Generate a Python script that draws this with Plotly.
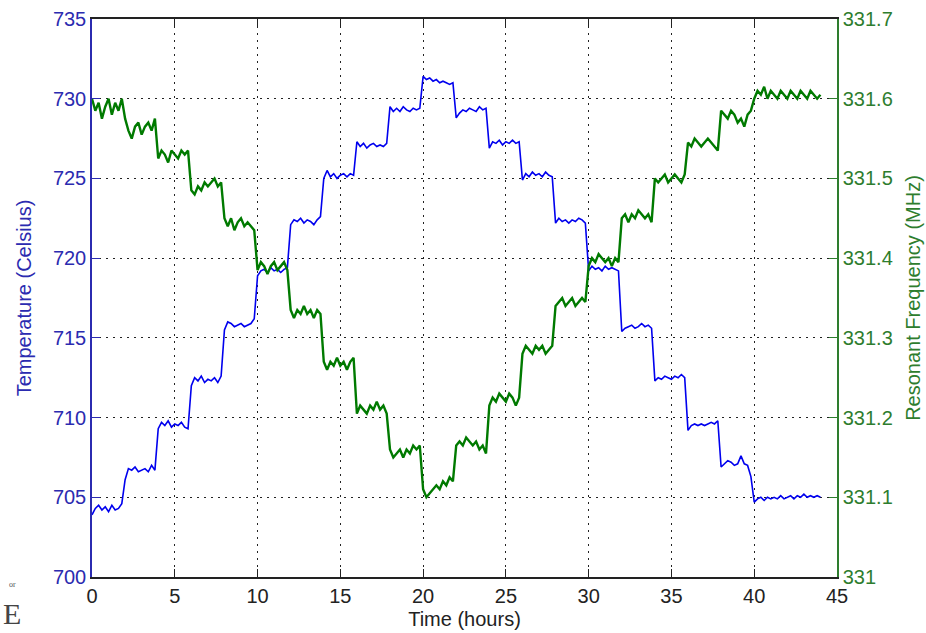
import numpy as np
import plotly.graph_objects as go

# Logger sample times (hours), one reading every 0.2 h
sample_hours = np.linspace(0, 44, 221)

# Furnace temperature (Celsius), ten readings per 2-hour set-point
temperature_c = [
    703.9, 704.3, 704.5, 704.2, 704.4, 704.1, 704.5, 704.2, 704.3, 704.6,   # 0-2 h
    706.1, 706.8, 706.7, 706.9, 706.6, 706.7, 706.8, 706.6, 707.0, 706.7,   # 2-4 h
    709.3, 709.7, 709.5, 709.8, 709.4, 709.6, 709.5, 709.7, 709.4, 709.3,   # 4-6 h
    712.0, 712.5, 712.3, 712.6, 712.2, 712.4, 712.3, 712.5, 712.2, 712.6,   # 6-8 h
    715.5, 716.0, 715.9, 715.7, 715.8, 715.9, 715.7, 715.8, 715.9, 716.2,   # 8-10 h
    718.9, 719.2, 719.3, 719.1, 719.4, 719.2, 719.3, 719.1, 719.3, 719.4,   # 10-12 h
    722.1, 722.4, 722.3, 722.5, 722.2, 722.4, 722.3, 722.1, 722.4, 722.6,   # 12-14 h
    725.0, 725.5, 725.1, 725.3, 725.0, 725.2, 725.3, 725.1, 725.3, 725.2,   # 14-16 h
    727.3, 727.0, 727.2, 726.9, 727.1, 727.2, 727.0, 727.1, 727.0, 727.2,   # 16-18 h
    729.5, 729.2, 729.4, 729.2, 729.5, 729.3, 729.2, 729.4, 729.3, 729.4,   # 18-20 h
    731.4, 731.2, 731.3, 731.1, 731.2, 731.0, 731.1, 731.0, 730.9, 731.0,   # 20-22 h
    728.8, 729.1, 729.3, 729.2, 729.4, 729.3, 729.2, 729.5, 729.3, 729.4,   # 22-24 h
    726.9, 727.3, 727.2, 727.4, 727.1, 727.3, 727.2, 727.4, 727.2, 727.3,   # 24-26 h
    724.9, 725.3, 725.1, 725.4, 725.2, 725.3, 725.1, 725.4, 725.2, 725.1,   # 26-28 h
    722.2, 722.5, 722.3, 722.4, 722.2, 722.4, 722.3, 722.5, 722.4, 722.2,   # 28-30 h
    719.2, 719.5, 719.3, 719.4, 719.2, 719.5, 719.3, 719.4, 719.3, 719.2,   # 30-32 h
    715.4, 715.6, 715.7, 715.8, 715.6, 715.7, 715.9, 715.7, 715.8, 715.6,   # 32-34 h
    712.3, 712.5, 712.4, 712.6, 712.5, 712.4, 712.6, 712.5, 712.7, 712.5,   # 34-36 h
    709.2, 709.5, 709.6, 709.5, 709.6, 709.5, 709.6, 709.7, 709.6, 709.8,   # 36-38 h
    706.9, 707.1, 707.3, 707.2, 707.0, 707.1, 707.6, 707.1, 707.0, 706.3,   # 38-40 h
    704.7, 704.9, 705.0, 704.8, 705.0, 704.9, 705.0, 704.9, 705.1, 704.9,   # 40-44 h
    705.0, 705.1, 704.9, 705.1, 705.0, 705.2, 705.0, 705.1, 705.0, 705.1, 705.0,
]

# Resonant frequency of the sensor (MHz), same sample times
frequency_mhz = [
    331.600, 331.585, 331.595, 331.575, 331.590, 331.600, 331.580, 331.595, 331.585, 331.600,  # 0-2 h
    331.575, 331.560, 331.550, 331.565, 331.570, 331.555, 331.565, 331.570, 331.560, 331.575,  # 2-4 h
    331.525, 331.535, 331.530, 331.520, 331.535, 331.530, 331.525, 331.535, 331.530, 331.535,  # 4-6 h
    331.485, 331.480, 331.490, 331.485, 331.495, 331.490, 331.495, 331.500, 331.490, 331.495,  # 6-8 h
    331.450, 331.440, 331.450, 331.435, 331.445, 331.450, 331.440, 331.445, 331.440, 331.435,  # 8-10 h
    331.385, 331.395, 331.390, 331.380, 331.390, 331.395, 331.385, 331.390, 331.395, 331.385,  # 10-12 h
    331.335, 331.325, 331.335, 331.330, 331.340, 331.330, 331.335, 331.325, 331.335, 331.330,  # 12-14 h
    331.270, 331.260, 331.270, 331.265, 331.275, 331.265, 331.270, 331.260, 331.270, 331.275,  # 14-16 h
    331.205, 331.215, 331.210, 331.205, 331.215, 331.210, 331.220, 331.210, 331.215, 331.205,  # 16-18 h
    331.160, 331.150, 331.155, 331.160, 331.150, 331.160, 331.155, 331.165, 331.160, 331.165,  # 18-20 h
    331.110, 331.100, 331.105, 331.110, 331.115, 331.110, 331.120, 331.115, 331.125, 331.120,  # 20-22 h
    331.165, 331.170, 331.165, 331.175, 331.170, 331.165, 331.170, 331.160, 331.165, 331.155,  # 22-24 h
    331.215, 331.225, 331.220, 331.230, 331.225, 331.220, 331.230, 331.225, 331.215, 331.225,  # 24-26 h
    331.280, 331.290, 331.285, 331.280, 331.290, 331.285, 331.290, 331.280, 331.285, 331.290,  # 26-28 h
    331.340, 331.345, 331.350, 331.340, 331.345, 331.350, 331.340, 331.345, 331.350, 331.345,  # 28-30 h
    331.390, 331.400, 331.395, 331.405, 331.400, 331.395, 331.400, 331.390, 331.400, 331.395,  # 30-32 h
    331.450, 331.455, 331.445, 331.455, 331.450, 331.460, 331.455, 331.450, 331.455, 331.445,  # 32-34 h
    331.500, 331.495, 331.500, 331.505, 331.495, 331.500, 331.505, 331.500, 331.495, 331.505,  # 34-36 h
    331.545, 331.540, 331.550, 331.545, 331.540, 331.545, 331.550, 331.545, 331.540, 331.535,  # 36-38 h
    331.585, 331.580, 331.575, 331.585, 331.580, 331.570, 331.575, 331.565, 331.580, 331.585,  # 38-40 h
    331.600, 331.610, 331.605, 331.615, 331.600, 331.610, 331.605, 331.600, 331.610, 331.605,  # 40-44 h
    331.600, 331.610, 331.605, 331.600, 331.610, 331.605, 331.600, 331.610, 331.605, 331.600, 331.605,
]

x_ticks = [0, 5, 10, 15, 20, 25, 30, 35, 40, 45]
temp_ticks = [700, 705, 710, 715, 720, 725, 730, 735]
freq_ticks = [331.0, 331.1, 331.2, 331.3, 331.4, 331.5, 331.6, 331.7]
freq_tick_text = ["331", "331.1", "331.2", "331.3", "331.4", "331.5", "331.6", "331.7"]

BLUE_LINE = "#0000ee"
BLUE_TEXT = "#2b2bb0"
GREEN_LINE = "#007a00"
GREEN_TEXT = "#2e7d2e"
DARK = "#222222"
FONT = "Liberation Sans, Arial, sans-serif"

fig = go.Figure()
fig.add_trace(go.Scatter(
    x=sample_hours, y=temperature_c, mode="lines",
    line=dict(color=BLUE_LINE, width=1.6), name="Temperature", yaxis="y",
))
fig.add_trace(go.Scatter(
    x=sample_hours, y=frequency_mhz, mode="lines",
    line=dict(color=GREEN_LINE, width=2.4), name="Frequency", yaxis="y2",
))

grid = dict(showgrid=True, gridcolor=DARK, gridwidth=1, griddash="2px,5px")

fig.update_layout(
    width=926, height=633,
    margin=dict(l=92, r=89, t=19, b=56),
    paper_bgcolor="white", plot_bgcolor="white",
    showlegend=False,
    font=dict(family=FONT, size=20, color=DARK),
    xaxis=dict(
        range=[0, 45], tickvals=x_ticks, ticks="inside", ticklen=8,
        tickcolor=DARK, showline=True, linecolor=DARK, linewidth=1.5,
        mirror="ticks", zeroline=False, automargin=False,
        tickfont=dict(size=20, color=DARK),
        title=dict(text="Time (hours)", font=dict(size=20, color=DARK), standoff=6),
        **grid,
    ),
    yaxis=dict(
        range=[700, 735], tickvals=temp_ticks, ticks="inside", ticklen=8,
        tickcolor=BLUE_TEXT, showline=True, linecolor=BLUE_TEXT, linewidth=1.5,
        zeroline=False, automargin=False,
        tickfont=dict(size=20, color=BLUE_TEXT),
        title=dict(text="Temperature (Celsius)", font=dict(size=20, color=BLUE_TEXT), standoff=16),
        **grid,
    ),
    yaxis2=dict(
        range=[331.0, 331.7], tickvals=freq_ticks, ticktext=freq_tick_text,
        overlaying="y", side="right", ticks="inside", ticklen=8,
        tickcolor=GREEN_TEXT, showline=True, linecolor=GREEN_TEXT, linewidth=1.5,
        zeroline=False, showgrid=False, automargin=False,
        tickfont=dict(size=20, color=GREEN_TEXT),
        title=dict(text="Resonant Frequency (MHz)", font=dict(size=20, color=GREEN_TEXT), standoff=14),
    ),
)

# Stray page marks in the lower-left corner
fig.add_annotation(
    text="or", xref="paper", yref="paper", x=-0.107, y=-0.014,
    xanchor="center", yanchor="middle", showarrow=False,
    font=dict(family="Liberation Serif, serif", size=8, color="#555555"),
)
fig.add_annotation(
    text="E", xref="paper", yref="paper", x=-0.107, y=-0.066,
    xanchor="center", yanchor="middle", showarrow=False,
    font=dict(family="Liberation Serif, serif", size=30, color="#444444"),
)

fig.write_html("out.html")
